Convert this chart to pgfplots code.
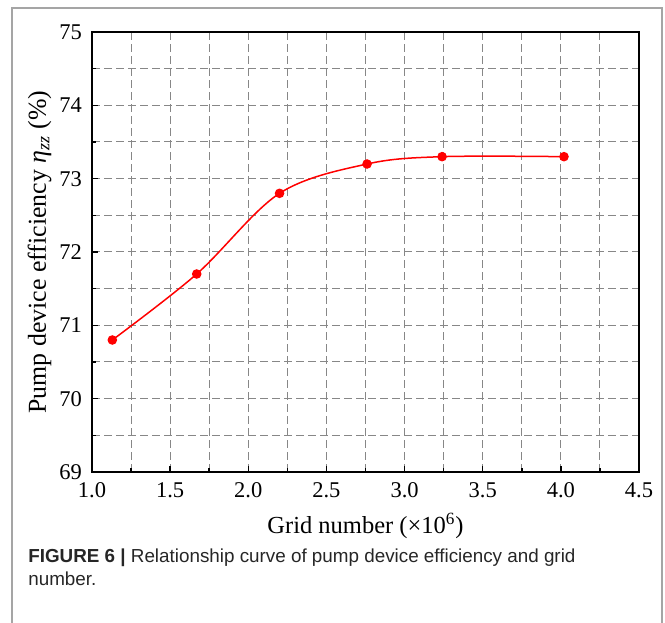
\documentclass[border=0pt]{standalone}
\usepackage{fontspec}
\setmainfont{Liberation Serif}
\newfontfamily\capfont{Liberation Sans}
\usepackage{pgfplots}
\pgfplotsset{compat=1.18}
\definecolor{curvered}{RGB}{255,0,0}
\definecolor{gridgray}{RGB}{135,135,135}
\definecolor{framegray}{RGB}{165,165,165}

% 1 px of the reference = 0.6pt
\begin{document}
\begin{tikzpicture}
\path[use as bounding box] (0pt,0pt) rectangle (399pt,373.8pt);
% page frame, open at the bottom
\draw[framegray, line width=0.9pt] (7.2pt,0pt) -- (7.2pt,369pt) -- (397.2pt,369pt) -- (397.2pt,0pt);
\begin{axis}[
  at={(55.2pt,90.6pt)}, anchor=south west,
  width=328.2pt, height=264pt, scale only axis,
  xmin=1, xmax=4.5, ymin=69, ymax=75,
  xtick={1,1.5,2,2.5,3,3.5,4,4.5}, ytick={69,70,71,72,73,74,75},
  minor x tick num=1, minor y tick num=1,
  xticklabel style={/pgf/number format/fixed, /pgf/number format/fixed zerofill,
                    /pgf/number format/precision=1, yshift=-3pt},
  yticklabel style={xshift=-2.5pt},
  /pgf/number format/assume math mode=true,
  tick label style={font=\fontsize{13.5}{15}\selectfont},
  xlabel style={font=\fontsize{14.7}{17}\selectfont, yshift=-2pt},
  ylabel style={font=\fontsize{15.5}{18}\selectfont, yshift=-2pt},
  tick align=inside, tick pos=left,
  major tick length=3.6pt, minor tick length=2.1pt,
  every tick/.style={black, line width=0.9pt},
  axis line style={black, line width=0.9pt},
  grid=both,
  major grid style={gridgray, line width=0.6pt, dash pattern=on 4.5pt off 2.7pt},
  minor grid style={gridgray, line width=0.6pt, dash pattern=on 4.5pt off 2.7pt},
  xlabel={Grid number (×10\textsuperscript{6})},
  ylabel={Pump device efficiency \textit{η}\textsubscript{\textit{zz}} (\%)},
  clip=false,
]
\addplot[curvered, line width=0.9pt, smooth, tension=0.55,
         mark=*, mark size=2.4pt, mark options={fill=curvered, draw=curvered}]
  coordinates {
  (1.13,70.80) (1.67,71.70) (2.20,72.80) (2.76,73.20) (3.24,73.30) (4.02,73.30)};
\end{axis}
\node[anchor=base west, inner sep=0pt, font=\capfont\fontsize{11.3}{13}\selectfont, text=black!85]
  at (16.8pt,36pt) {\textbf{FIGURE 6 |} Relationship curve of pump device efficiency and grid};
\node[anchor=base west, inner sep=0pt, font=\capfont\fontsize{11.3}{13}\selectfont, text=black!85]
  at (16.8pt,22.2pt) {number.};
\end{tikzpicture}
\end{document}
